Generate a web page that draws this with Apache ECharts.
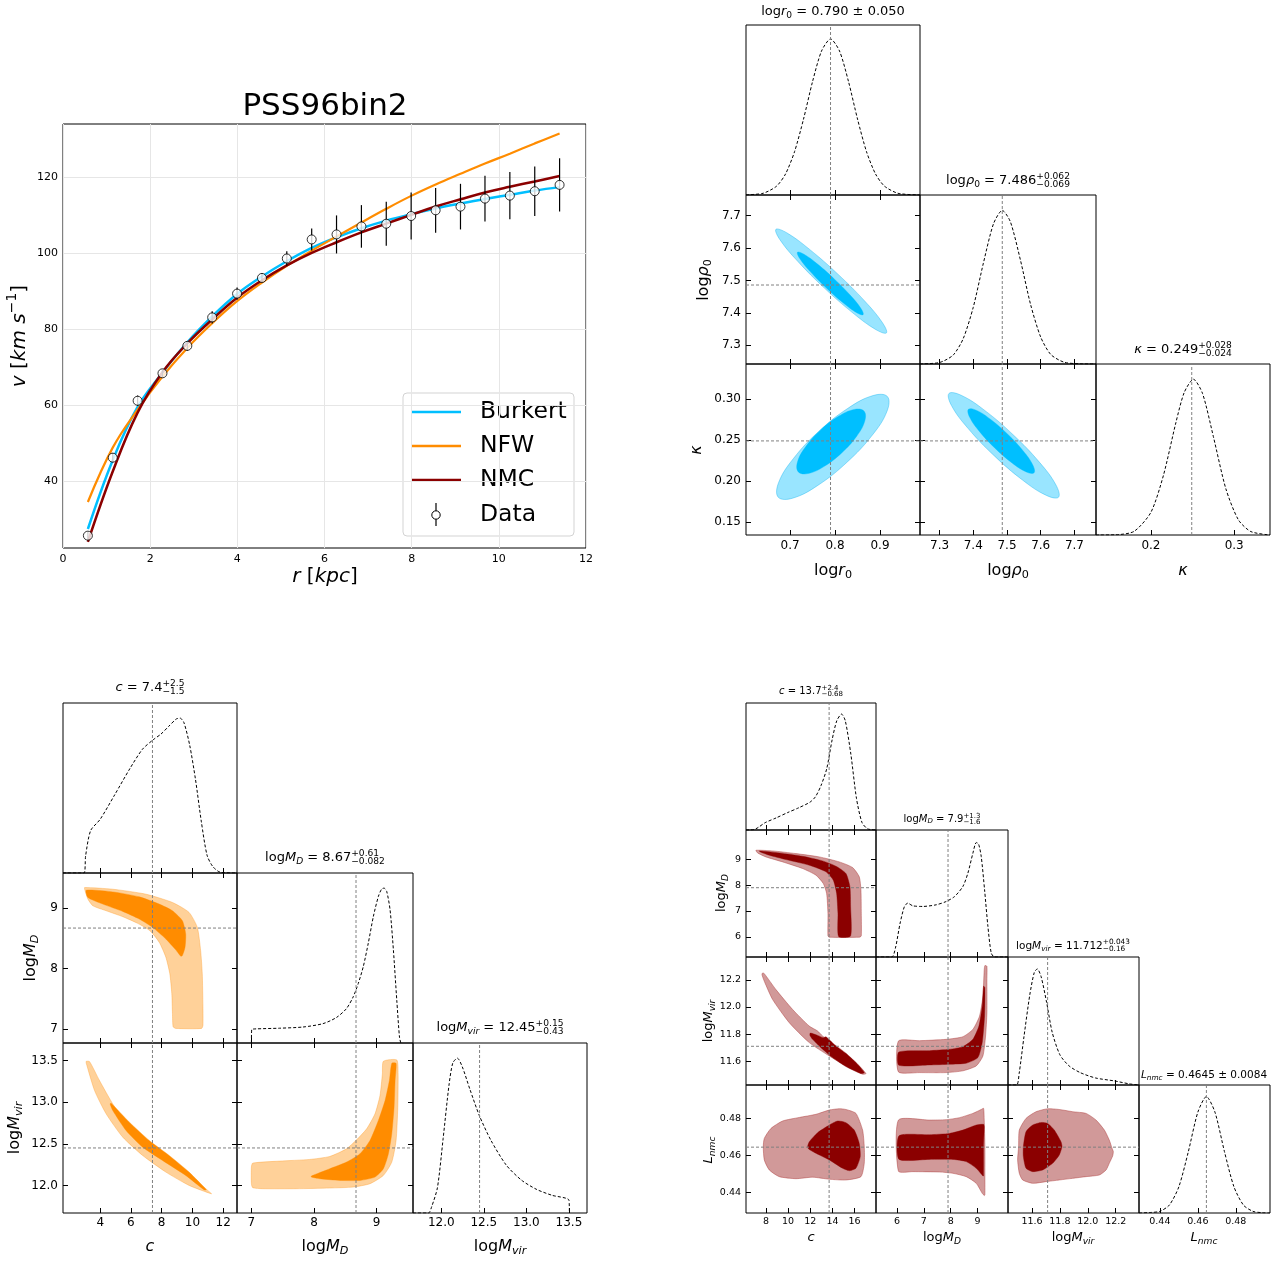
<!DOCTYPE html>
<html><head><meta charset="utf-8">
<script src="https://cdn.jsdelivr.net/npm/echarts@6/dist/echarts.min.js"></script>
<style>html,body{margin:0;padding:0;background:#fff}#c{width:1278px;height:1262px}</style>
</head><body><div id="c"></div>
<script>
// ================= Rotation curve (PSS96bin2) =================
const radius = [0.571,1.141,1.712,2.282,2.853,3.423,3.994,4.565,5.135,5.706,6.276,6.847,7.417,7.988,8.550,9.120,9.682,10.253,10.824,11.394];
const vObs = [25.65,46.16,61.12,68.34,75.56,83.04,89.29,93.42,98.53,103.54,104.86,106.97,107.68,109.70,111.20,112.17,114.28,115.07,116.22,117.89];
const vErr = [1.0,1.2,1.4,1.0,1.3,1.6,1.6,1.2,1.9,2.9,5.0,5.6,5.8,6.2,5.9,6.0,6.0,6.2,6.5,7.0];
const vBurkert = [27.4,45.5,59.5,68.5,76.5,83.3,89.2,93.8,97.8,101.3,104.1,106.5,108.5,110.2,111.7,113.0,114.2,115.3,116.4,117.3];
const vNFW = [34.5,48.8,58.8,67.5,75.0,81.5,87.3,92.2,96.6,100.6,104.3,108.0,111.6,115.0,118.0,120.8,123.5,126.1,128.8,131.4];
const vNMC = [24.0,42.5,58.0,68.6,76.2,82.5,88.2,92.8,96.7,100.0,102.8,105.4,107.7,110.0,112.2,114.1,115.9,117.4,118.8,120.2];
const rTicks = [0,2,4,6,8,10,12];
const vTicks = [40,60,80,100,120];

// ================= Burkert corner =================
const burkHistLogr0 = [[0.602,0.001],[0.64,0.010],[0.67,0.052],[0.69,0.124],[0.71,0.255],[0.73,0.447],[0.75,0.667],[0.77,0.847],[0.79,0.918],[0.81,0.847],[0.83,0.667],[0.85,0.447],[0.87,0.255],[0.89,0.124],[0.91,0.052],[0.94,0.010],[0.989,0.0]];
const burkHistLogrho0 = [[7.242,0.0],[7.30,0.009],[7.34,0.052],[7.37,0.149],[7.40,0.336],[7.43,0.597],[7.46,0.830],[7.486,0.909],[7.51,0.842],[7.54,0.614],[7.57,0.352],[7.60,0.159],[7.63,0.056],[7.67,0.010],[7.72,0.001],[7.764,0.0]];
const burkHistKappa = [[0.134,0.0],[0.16,0.002],[0.18,0.022],[0.20,0.133],[0.215,0.349],[0.23,0.658],[0.24,0.834],[0.251,0.911],[0.262,0.827],[0.275,0.575],[0.29,0.270],[0.305,0.089],[0.32,0.020],[0.343,0.0]];
const burkOuter10 = [[0.9143,7.338],[0.9053,7.370],[0.8659,7.4366],[0.8064,7.5195],[0.7429,7.5966],[0.6925,7.6474],[0.6685,7.658],[0.6775,7.6258],[0.7169,7.5594],[0.7764,7.4765],[0.8399,7.3994],[0.8903,7.3486]];
const burkInner10 = [[0.8625,7.3944],[0.8574,7.4140],[0.8341,7.4541],[0.7988,7.5041],[0.7611,7.5505],[0.7309,7.5810],[0.7165,7.5872],[0.7216,7.5677],[0.7449,7.5275],[0.7802,7.4775],[0.8179,7.4311],[0.8481,7.4006]];
const burkOuter20 = [[0.9164,0.3033],[0.9159,0.2856],[0.8831,0.2562],[0.8266,0.2229],[0.7617,0.1946],[0.7058,0.1790],[0.6738,0.1801],[0.6743,0.1978],[0.7071,0.2272],[0.7636,0.2605],[0.8285,0.2888],[0.8844,0.3044]];
const burkInner20 = [[0.8644,0.2855],[0.8663,0.2735],[0.8482,0.2548],[0.8148,0.2343],[0.7752,0.2176],[0.7399,0.2091],[0.7184,0.2111],[0.7165,0.2231],[0.7346,0.2418],[0.7680,0.2623],[0.8076,0.2790],[0.8429,0.2875]];
const burkOuter21 = [[7.6529,0.1802],[7.6454,0.1950],[7.5965,0.2228],[7.5190,0.2562],[7.4339,0.2863],[7.3640,0.3048],[7.3279,0.3070],[7.3354,0.2922],[7.3843,0.2644],[7.4618,0.2310],[7.5469,0.2009],[7.6168,0.1824]];
const burkInner21 = [[7.5803,0.2100],[7.5768,0.2194],[7.5482,0.2367],[7.5021,0.2572],[7.4508,0.2755],[7.4082,0.2866],[7.3855,0.2876],[7.3890,0.2782],[7.4176,0.2609],[7.4637,0.2404],[7.5150,0.2221],[7.5576,0.2110]];

// ================= NFW corner =================
const nfwHistC = [[1.58,0],[2.95,0],[3.05,0.10],[3.375,0.249],[4.0,0.316],[4.95,0.461],[5.95,0.617],[6.75,0.728],[7.45,0.784],[7.95,0.817],[8.45,0.862],[8.95,0.906],[9.2,0.911],[9.45,0.884],[9.825,0.751],[10.2,0.55],[10.575,0.305],[10.95,0.105],[11.325,0.038],[11.825,0.004],[12.9,0]];
const nfwHistLogMD = [[7.0,0],[7.005,0.079],[7.075,0.083],[7.449,0.087],[7.824,0.094],[8.144,0.114],[8.358,0.150],[8.519,0.203],[8.626,0.272],[8.706,0.350],[8.786,0.449],[8.866,0.587],[8.947,0.744],[9.027,0.862],[9.080,0.906],[9.118,0.911],[9.160,0.892],[9.214,0.783],[9.267,0.547],[9.321,0.252],[9.364,0.035],[9.385,0]];
const nfwHistLogMvir = [[11.668,0],[11.85,0],[11.888,0.038],[11.955,0.149],[12.022,0.438],[12.09,0.749],[12.135,0.882],[12.189,0.911],[12.247,0.86],[12.337,0.727],[12.449,0.571],[12.584,0.427],[12.763,0.282],[12.943,0.193],[13.123,0.138],[13.302,0.104],[13.5,0.076],[13.505,0]];
const nfwOuter10 = [[2.987,9.340],[4.819,9.312],[6.976,9.230],[8.701,9.093],[9.779,8.929],[10.318,8.682],[10.534,8.299],[10.641,7.915],[10.685,7.367],[10.685,7.066],[10.598,7.011],[8.916,7.011],[8.744,7.038],[8.701,7.258],[8.658,7.586],[8.528,7.915],[8.270,8.189],[7.838,8.436],[7.234,8.627],[6.437,8.748],[5.466,8.858],[4.388,8.956],[3.526,9.038],[3.202,9.148],[2.987,9.312]];
const nfwInner10 = [[3.094,9.296],[4.819,9.268],[6.544,9.186],[7.838,9.066],[8.701,8.956],[9.348,8.792],[9.563,8.573],[9.520,8.353],[9.348,8.216],[9.240,8.205],[8.916,8.310],[8.270,8.490],[7.407,8.682],[6.544,8.819],[5.466,8.945],[4.173,9.066],[3.202,9.175]];
const nfwOuter20 = [[3.094,13.492],[3.310,13.488],[3.957,13.26],[4.819,12.98],[5.898,12.70],[7.191,12.48],[8.701,12.26],[10.210,12.06],[11.245,11.90],[11.073,11.908],[9.779,12.00],[8.270,12.16],[6.760,12.36],[5.466,12.58],[4.388,12.86],[3.633,13.14],[3.094,13.468]];
const nfwInner20 = [[4.712,12.988],[5.898,12.76],[7.191,12.54],[8.485,12.36],[9.779,12.16],[10.900,11.948],[10.749,11.948],[9.563,12.12],[8.054,12.30],[6.760,12.46],[5.682,12.66],[4.819,12.90],[4.647,12.98]];
const nfwOuter21 = [[7.021,12.268],[7.449,12.292],[7.930,12.312],[8.251,12.348],[8.519,12.44],[8.679,12.548],[8.840,12.68],[8.973,12.86],[9.053,13.08],[9.091,13.34],[9.107,13.492],[9.321,13.508],[9.342,13.34],[9.337,12.94],[9.310,12.54],[9.241,12.28],[9.107,12.12],[8.893,12.02],[8.626,11.98],[8.251,11.968],[7.717,11.96],[7.182,11.96],[7.021,11.972],[7.0,12.02],[7.0,12.22]];
const nfwInner21 = [[7.957,12.112],[8.251,12.20],[8.519,12.28],[8.733,12.38],[8.893,12.54],[9.027,12.78],[9.134,13.02],[9.203,13.26],[9.241,13.468],[9.310,13.468],[9.294,13.26],[9.278,12.94],[9.241,12.62],[9.187,12.38],[9.107,12.20],[8.973,12.10],[8.733,12.06],[8.412,12.06],[8.091,12.08],[7.957,12.10]];

// ================= NMC corner =================
const nmcHistC = [[6.2,0],[6.9,0.003],[7.3,0.02],[7.93,0.058],[8.94,0.096],[9.95,0.137],[10.96,0.175],[11.97,0.219],[12.47,0.262],[12.97,0.35],[13.48,0.481],[13.98,0.714],[14.39,0.86],[14.82,0.913],[15.16,0.86],[15.66,0.598],[16.17,0.248],[16.67,0.058],[17.18,0.009],[17.93,0]];
const nmcHistLogMD = [[5.222,0],[5.808,0],[5.945,0.071],[6.119,0.267],[6.280,0.398],[6.404,0.424],[6.590,0.403],[6.963,0.398],[7.459,0.411],[7.831,0.437],[8.142,0.476],[8.452,0.555],[8.638,0.660],[8.824,0.817],[8.949,0.901],[9.035,0.890],[9.135,0.791],[9.259,0.529],[9.383,0.241],[9.507,0.031],[9.631,0],[10.13,0]];
const nmcHistLogMvir = [[11.428,0],[11.49,0],[11.508,0.09],[11.543,0.382],[11.584,0.703],[11.616,0.878],[11.638,0.907],[11.665,0.848],[11.705,0.644],[11.745,0.411],[11.80,0.236],[11.866,0.149],[11.947,0.096],[12.055,0.055],[12.19,0.032],[12.297,0.009],[12.367,0]];
const nmcHistLnmc = [[0.429,0],[0.435,0.004],[0.44,0.013],[0.445,0.062],[0.45,0.205],[0.455,0.480],[0.46,0.788],[0.4645,0.91],[0.469,0.788],[0.474,0.480],[0.479,0.205],[0.484,0.062],[0.489,0.013],[0.494,0.002],[0.498,0]];
const nmcOuter10 = [[7.098,9.346],[8.602,9.321],[10.707,9.218],[12.812,9.090],[14.617,8.897],[15.820,8.679],[16.421,8.321],[16.571,7.808],[16.602,6.910],[16.602,6.038],[16.421,5.987],[13.714,5.987],[13.594,6.038],[13.594,6.910],[13.474,7.679],[13.173,8.064],[12.511,8.385],[11.308,8.641],[9.504,8.897],[8.0,9.090],[7.248,9.244]];
const nmcInner10 = [[7.398,9.321],[9.203,9.244],[11.308,9.115],[13.113,8.936],[14.316,8.731],[15.218,8.449],[15.579,7.936],[15.639,7.167],[15.639,6.038],[14.556,6.013],[14.496,6.910],[14.376,7.679],[14.075,8.192],[13.414,8.513],[11.910,8.769],[9.805,8.987],[8.301,9.154],[7.549,9.269]];
const nmcOuter20 = [[7.699,12.250],[7.850,12.245],[8.902,12.128],[10.406,11.982],[11.910,11.860],[12.662,11.824],[13.113,11.787],[14.617,11.690],[16.120,11.593],[17.023,11.512],[16.722,11.507],[15.218,11.568],[13.714,11.641],[11.910,11.739],[10.105,11.885],[8.602,12.055],[7.850,12.189],[7.639,12.238]];
const nmcInner20 = [[12.0,11.809],[12.662,11.792],[13.173,11.775],[13.414,11.782],[14.165,11.726],[15.218,11.661],[16.120,11.593],[16.872,11.519],[16.571,11.512],[15.218,11.563],[14.015,11.629],[12.962,11.702],[12.211,11.763],[11.970,11.792]];
const nmcOuter21 = [[6.057,11.751],[6.839,11.753],[7.832,11.763],[8.452,11.782],[8.824,11.836],[9.073,11.934],[9.197,12.080],[9.246,12.274],[9.271,12.304],[9.346,12.299],[9.346,12.201],[9.346,11.958],[9.296,11.787],[9.197,11.641],[8.949,11.568],[8.452,11.532],[7.832,11.519],[6.839,11.519],[6.057,11.524]];
const nmcInner21 = [[6.069,11.670],[7.211,11.680],[7.956,11.690],[8.452,11.709],[8.824,11.763],[9.048,11.860],[9.172,12.007],[9.222,12.153],[9.271,12.141],[9.259,11.934],[9.172,11.739],[9.011,11.629],[8.576,11.588],[7.956,11.580],[7.211,11.575],[6.069,11.573]];
const nmcOuter30 = [[7.759,0.4648],[7.850,0.4692],[8.451,0.4746],[9.504,0.4786],[11.008,0.4805],[12.511,0.4822],[13.714,0.4845],[14.617,0.4852],[15.218,0.4848],[16.120,0.4827],[16.722,0.4737],[16.872,0.4648],[16.872,0.4558],[16.571,0.4486],[15.218,0.4468],[13.714,0.4472],[12.211,0.4483],[10.707,0.4475],[9.203,0.4486],[8.301,0.4522],[7.850,0.4576]];
const nmcInner30 = [[11.759,0.4648],[11.910,0.4674],[12.662,0.4723],[13.714,0.4764],[14.466,0.4786],[15.218,0.4777],[15.970,0.4737],[16.421,0.4665],[16.511,0.4594],[16.120,0.4531],[15.519,0.4518],[14.917,0.4531],[13.714,0.4576],[12.511,0.4612],[11.850,0.4635]];
const nmcOuter31 = [[6.057,0.4791],[7.211,0.4791],[7.832,0.4793],[8.328,0.4804],[8.824,0.4827],[9.135,0.4848],[9.222,0.4854],[9.246,0.4791],[9.271,0.4648],[9.271,0.4504],[9.271,0.4387],[9.246,0.4384],[9.172,0.4396],[8.949,0.4450],[8.576,0.4486],[8.080,0.4504],[7.583,0.4511],[6.590,0.4513],[6.057,0.4515]];
const nmcInner31 = [[6.081,0.4707],[7.211,0.4712],[7.956,0.4719],[8.452,0.4737],[8.949,0.4764],[9.222,0.4768],[9.246,0.4755],[9.222,0.4648],[9.222,0.4490],[9.197,0.4490],[8.949,0.4531],[8.576,0.4567],[8.080,0.4579],[7.211,0.4579],[6.081,0.4579]];
const nmcOuter32 = [[11.509,0.4737],[11.557,0.4800],[11.629,0.4836],[11.712,0.4852],[11.796,0.4848],[11.892,0.4836],[11.987,0.4827],[12.059,0.4791],[12.119,0.4737],[12.154,0.4683],[12.174,0.4639],[12.183,0.4621],[12.178,0.4597],[12.154,0.4558],[12.131,0.4522],[12.083,0.4495],[11.987,0.4486],[11.892,0.4477],[11.796,0.4468],[11.700,0.4459],[11.605,0.4450],[11.533,0.4468],[11.509,0.4504],[11.497,0.4576],[11.504,0.4648]];
const nmcInner32 = [[11.538,0.4648],[11.557,0.4728],[11.605,0.4764],[11.665,0.4778],[11.712,0.4773],[11.760,0.4737],[11.808,0.4674],[11.815,0.4648],[11.796,0.4603],[11.748,0.4558],[11.677,0.4522],[11.605,0.4513],[11.557,0.4531],[11.538,0.4594]];

// ================= helpers =================
const FONT = 'DejaVu Sans';
const grids = [], xAxes = [], yAxes = [], series = [], graphics = [];
const mctx = document.createElement('canvas').getContext('2d');
function tw(s, fs, it) { mctx.font = (it ? 'italic ' : '') + fs + 'px "DejaVu Sans"'; return mctx.measureText(s).width; }
function txt(s, x, y, fs, it) {
  return { type: 'text', x: x, y: y, silent: true,
    style: { text: s, fontSize: fs, fontFamily: FONT, fontStyle: it ? 'italic' : 'normal', fill: '#000',
      align: 'left', verticalAlign: 'middle', textAlign: 'left', textVerticalAlign: 'middle' } };
}
function mtext(parts, cx, cy, fs, rot) {
  const kids = []; let x = 0; const s = fs * 0.7;
  for (const p of parts) {
    if (p.t !== undefined) { kids.push(txt(p.t, x, 0, fs, p.i)); x += tw(p.t, fs, p.i); }
    else if (p.sup !== undefined && p.sub !== undefined) {
      kids.push(txt(p.sup, x, -0.33 * fs, s, false)); kids.push(txt(p.sub, x, 0.30 * fs, s, false));
      x += Math.max(tw(p.sup, s, false), tw(p.sub, s, false));
    } else if (p.sub !== undefined) { kids.push(txt(p.sub, x, 0.26 * fs, s, p.i)); x += tw(p.sub, s, p.i); }
    else { kids.push(txt(p.sup, x, -0.36 * fs, s, p.i)); x += tw(p.sup, s, p.i); }
  }
  kids.forEach(k => { k.x -= x / 2; });
  graphics.push({ type: 'group', x: cx, y: cy, rotation: rot || 0, silent: true, children: kids });
}
function tickAxis(gi, p, pos, show, fs, isY, margin) {
  const ticks = isY ? p.yticks : p.xticks;
  const dec = isY ? p.ydec : p.dec;
  return { type: 'value', gridIndex: gi, position: pos, min: p.min, max: p.max,
    axisLine: { show: false },
    axisTick: { show: true, inside: true, length: 5, customValues: ticks, lineStyle: { color: '#000', width: 1 } },
    axisLabel: { show: show, customValues: ticks, fontSize: fs, fontFamily: FONT, color: '#000', margin: margin,
      formatter: v => Number(v).toFixed(dec) },
    splitLine: { show: false } };
}
function seg(xi, yi, pts) {
  return { type: 'line', xAxisIndex: xi, yAxisIndex: yi, data: pts, showSymbol: false, silent: true,
    lineStyle: { color: '#808080', width: 1, type: [3, 2] }, z: 6 };
}
function poly(xi, yi, pts, fill, stroke, z, sm) {
  return { type: 'custom', xAxisIndex: xi, yAxisIndex: yi, z: z, silent: true, clip: true, data: pts,
    renderItem: (params, api) => params.dataIndex !== 0 ? null : ({
      type: 'polygon', shape: { points: pts.map(p => api.coord(p)), smooth: sm },
      style: { fill: fill, stroke: stroke || fill, lineWidth: stroke ? 0.8 : 0.4 } }) };
}
function corner(S) {
  const n = S.params.length;
  for (let i = 0; i < n; i++) for (let j = 0; j <= i; j++) {
    const l = S.cols[j], r = S.cols[j + 1], t = S.rows[i], b = S.rows[i + 1];
    const gi = grids.length;
    grids.push({ left: l, top: t, width: r - l, height: b - t, show: true, borderColor: '#000', borderWidth: 1 });
    const px = S.params[j];
    const xb = xAxes.length;
    xAxes.push(tickAxis(gi, px, 'bottom', i === n - 1, S.fs, false, S.xm));
    if (i === j) {
      const yb = yAxes.length;
      yAxes.push({ type: 'value', gridIndex: gi, min: 0, max: 1, show: false });
      series.push({ type: 'line', xAxisIndex: xb, yAxisIndex: yb, data: S.hists[i], showSymbol: false, smooth: 0.25,
        silent: true, lineStyle: { color: '#000', width: 1, type: [3, 2] }, z: 4 });
      series.push(seg(xb, yb, [[px.med, 0], [px.med, 1]]));
    } else {
      xAxes.push(tickAxis(gi, px, 'top', false, S.fs, false, 0));
      const py = S.params[i];
      const yb = yAxes.length;
      yAxes.push(tickAxis(gi, py, 'left', j === 0, S.fs, true, S.ym));
      yAxes.push(tickAxis(gi, py, 'right', false, S.fs, true, 0));
      const key = '' + i + j;
      series.push(poly(xb, yb, S.outer[key], S.light, S.edge, 2, S.smooth));
      series.push(poly(xb, yb, S.inner[key], S.dark, null, 3, S.smooth));
      series.push(seg(xb, yb, [[px.med, py.min], [px.med, py.max]]));
      series.push(seg(xb, yb, [[px.min, py.med], [px.max, py.med]]));
    }
  }
}

// ================= rotation curve panel =================
grids.push({ left: 63, top: 124, width: 523, height: 424, show: true, borderColor: '#000', borderWidth: 1 });
xAxes.push({ type: 'value', gridIndex: 0, min: 0, max: 12, interval: 2,
  axisLine: { show: false }, axisTick: { show: false, customValues: rTicks },
  axisLabel: { customValues: rTicks, fontSize: 11, fontFamily: FONT, color: '#000', margin: 6 },
  splitLine: { show: true, lineStyle: { color: '#e6e6e6', width: 1 } } });
yAxes.push({ type: 'value', gridIndex: 0, min: 22.4, max: 133.9,
  axisLine: { show: false }, axisTick: { show: false, customValues: vTicks },
  axisLabel: { customValues: vTicks, fontSize: 11, fontFamily: FONT, color: '#000', margin: 5 },
  splitLine: { show: true, lineStyle: { color: '#e6e6e6', width: 1 } } });
function curve(vals, color, w) {
  return { type: 'line', xAxisIndex: 0, yAxisIndex: 0, data: radius.map((r, i) => [r, vals[i]]), showSymbol: false,
    smooth: 0.4, silent: true, lineStyle: { color: color, width: w }, z: 3 };
}
series.push(curve(vBurkert, '#00bfff', 2.5));
series.push(curve(vNFW, '#ff8c00', 2.2));
series.push(curve(vNMC, '#8b0000', 2.5));
series.push({ type: 'custom', xAxisIndex: 0, yAxisIndex: 0, z: 5, silent: true,
  data: radius.map((r, i) => [r, vObs[i], vErr[i]]),
  renderItem: (params, api) => {
    const r = api.value(0), v = api.value(1), e = api.value(2);
    const a = api.coord([r, v - e]), b = api.coord([r, v + e]);
    return { type: 'line', shape: { x1: a[0], y1: a[1], x2: b[0], y2: b[1] }, style: { stroke: '#000', lineWidth: 1.2 } };
  } });
series.push({ type: 'scatter', xAxisIndex: 0, yAxisIndex: 0, z: 6, silent: true, symbol: 'circle', symbolSize: 9,
  data: radius.map((r, i) => [r, vObs[i]]), itemStyle: { color: '#fff', borderColor: '#000', borderWidth: 1 } });

mtext([{ t: 'PSS96bin2' }], 325, 107, 31);
mtext([{ t: 'r', i: 1 }, { t: ' [' }, { t: 'kpc', i: 1 }, { t: ']' }], 325, 577, 20);
mtext([{ t: 'v', i: 1 }, { t: ' [' }, { t: 'km', i: 1 }, { t: ' ' }, { t: 's', i: 1 }, { sup: '−1' }, { t: ']' }], 20, 336, 20, Math.PI / 2);
// legend
graphics.push({ type: 'rect', shape: { x: 403, y: 393, width: 171, height: 143, r: 4 }, silent: true,
  style: { fill: 'rgba(255,255,255,0.85)', stroke: '#d3d3d3', lineWidth: 1 } });
[['Burkert', '#00bfff', 412], ['NFW', '#ff8c00', 446], ['NMC', '#8b0000', 480]].forEach(e => {
  graphics.push({ type: 'line', shape: { x1: 412, y1: e[2], x2: 461, y2: e[2] }, silent: true, style: { stroke: e[1], lineWidth: 2.5 } });
  graphics.push(txt(e[0], 480, e[2], 23.5, false));
});
graphics.push({ type: 'line', shape: { x1: 436, y1: 503, x2: 436, y2: 526 }, silent: true, style: { stroke: '#000', lineWidth: 1.2 } });
graphics.push({ type: 'circle', shape: { cx: 436, cy: 515, r: 4.2 }, silent: true, style: { fill: '#fff', stroke: '#000', lineWidth: 1 } });
graphics.push(txt('Data', 480, 515, 23.5, false));

// ================= Burkert corner =================
const L_logr0 = [{ t: 'log' }, { t: 'r', i: 1 }, { sub: '0' }];
const L_logrho0 = [{ t: 'log' }, { t: 'ρ', i: 1 }, { sub: '0' }];
const L_kappa = [{ t: 'κ', i: 1 }];
const L_c = [{ t: 'c', i: 1 }];
const L_logMD = [{ t: 'log' }, { t: 'M', i: 1 }, { sub: 'D', i: 1 }];
const L_logMvir = [{ t: 'log' }, { t: 'M', i: 1 }, { sub: 'vir', i: 1 }];
const L_Lnmc = [{ t: 'L', i: 1 }, { sub: 'nmc', i: 1 }];

corner({
  cols: [746, 920, 1096, 1270], rows: [25, 195, 364, 535], fs: 12, xm: 5, ym: 5, smooth: 0.4,
  params: [
    { min: 0.602, max: 0.989, xticks: [0.7, 0.8, 0.9], yticks: [0.7, 0.8, 0.9], dec: 1, ydec: 1, med: 0.79 },
    { min: 7.242, max: 7.764, xticks: [7.3, 7.4, 7.5, 7.6, 7.7], yticks: [7.3, 7.4, 7.5, 7.6, 7.7], dec: 1, ydec: 1, med: 7.486 },
    { min: 0.134, max: 0.343, xticks: [0.2, 0.3], yticks: [0.15, 0.2, 0.25, 0.3], dec: 1, ydec: 2, med: 0.249 }
  ],
  hists: [burkHistLogr0, burkHistLogrho0, burkHistKappa],
  outer: { '10': burkOuter10, '20': burkOuter20, '21': burkOuter21 },
  inner: { '10': burkInner10, '20': burkInner20, '21': burkInner21 },
  light: '#99e5ff', edge: 'rgba(0,170,235,0.45)', dark: '#00bfff'
});
mtext(L_logr0.concat([{ t: ' = 0.790 ± 0.050' }]), 833, 12, 13);
mtext(L_logrho0.concat([{ t: ' = 7.486' }, { sup: '+0.062', sub: '−0.069' }]), 1008, 181, 13);
mtext(L_kappa.concat([{ t: ' = 0.249' }, { sup: '+0.028', sub: '−0.024' }]), 1183, 350, 13);
mtext(L_logr0, 833, 571, 16); mtext(L_logrho0, 1008, 571, 16); mtext(L_kappa, 1183, 571, 16);
mtext(L_logrho0, 704, 280, 16, Math.PI / 2); mtext(L_kappa, 697, 450, 16, Math.PI / 2);

// ================= NFW corner =================
corner({
  cols: [63, 237, 413, 587], rows: [703, 873, 1043, 1213], fs: 12, xm: 4, ym: 5, smooth: 0.2,
  params: [
    { min: 1.58, max: 12.9, xticks: [4, 6, 8, 10, 12], yticks: [4, 6, 8, 10, 12], dec: 0, ydec: 0, med: 7.4 },
    { min: 6.77, max: 9.58, xticks: [7, 8, 9], yticks: [7, 8, 9], dec: 0, ydec: 0, med: 8.67 },
    { min: 11.668, max: 13.712, xticks: [12, 12.5, 13, 13.5], yticks: [12, 12.5, 13, 13.5], dec: 1, ydec: 1, med: 12.45 }
  ],
  hists: [nfwHistC, nfwHistLogMD, nfwHistLogMvir],
  outer: { '10': nfwOuter10, '20': nfwOuter20, '21': nfwOuter21 },
  inner: { '10': nfwInner10, '20': nfwInner20, '21': nfwInner21 },
  light: '#ffd199', edge: 'rgba(255,150,30,0.45)', dark: '#ff8c00'
});
mtext(L_c.concat([{ t: ' = 7.4' }, { sup: '+2.5', sub: '−1.5' }]), 150, 688, 13);
mtext(L_logMD.concat([{ t: ' = 8.67' }, { sup: '+0.61', sub: '−0.082' }]), 325, 858, 13);
mtext(L_logMvir.concat([{ t: ' = 12.45' }, { sup: '+0.15', sub: '−0.43' }]), 500, 1028, 13);
mtext(L_c, 150, 1247, 16); mtext(L_logMD, 325, 1247, 16); mtext(L_logMvir, 500, 1247, 16);
mtext(L_logMD, 31, 958, 16, Math.PI / 2); mtext(L_logMvir, 15, 1128, 16, Math.PI / 2);

// ================= NMC corner =================
corner({
  cols: [746, 876, 1008, 1139, 1270], rows: [703, 830, 957, 1085, 1213], fs: 9.5, xm: 4, ym: 5, smooth: 0.2,
  params: [
    { min: 6.2, max: 17.93, xticks: [8, 10, 12, 14, 16], yticks: [8, 10, 12, 14, 16], dec: 0, ydec: 0, med: 13.7 },
    { min: 5.222, max: 10.13, xticks: [6, 7, 8, 9], yticks: [6, 7, 8, 9], dec: 0, ydec: 0, med: 7.9 },
    { min: 11.428, max: 12.367, xticks: [11.6, 11.8, 12.0, 12.2], yticks: [11.6, 11.8, 12.0, 12.2], dec: 1, ydec: 1, med: 11.712 },
    { min: 0.429, max: 0.498, xticks: [0.44, 0.46, 0.48], yticks: [0.44, 0.46, 0.48], dec: 2, ydec: 2, med: 0.4645 }
  ],
  hists: [nmcHistC, nmcHistLogMD, nmcHistLogMvir, nmcHistLnmc],
  outer: { '10': nmcOuter10, '20': nmcOuter20, '21': nmcOuter21, '30': nmcOuter30, '31': nmcOuter31, '32': nmcOuter32 },
  inner: { '10': nmcInner10, '20': nmcInner20, '21': nmcInner21, '30': nmcInner30, '31': nmcInner31, '32': nmcInner32 },
  light: '#d19999', edge: 'rgba(170,50,50,0.55)', dark: '#8b0000'
});
mtext(L_c.concat([{ t: ' = 13.7' }, { sup: '+2.4', sub: '−0.68' }]), 811, 691, 10);
mtext(L_logMD.concat([{ t: ' = 7.9' }, { sup: '+1.3', sub: '−1.6' }]), 942, 819, 10);
mtext(L_logMvir.concat([{ t: ' = 11.712' }, { sup: '+0.043', sub: '−0.16' }]), 1073, 946, 10.5);
mtext(L_Lnmc.concat([{ t: ' = 0.4645 ± 0.0084' }]), 1204, 1075, 10.5);
mtext(L_c, 811, 1238, 13); mtext(L_logMD, 942, 1238, 13); mtext(L_logMvir, 1073, 1238, 13); mtext(L_Lnmc, 1204, 1238, 13);
mtext(L_logMD, 722, 893, 13, Math.PI / 2); mtext(L_logMvir, 709, 1021, 13, Math.PI / 2); mtext(L_Lnmc, 709, 1150, 13, Math.PI / 2);

// ================= render =================
const chart = echarts.init(document.getElementById('c'), null, { renderer: 'canvas', width: 1278, height: 1262 });
chart.setOption({
  animation: false, backgroundColor: '#fff',
  textStyle: { fontFamily: FONT },
  grid: grids, xAxis: xAxes, yAxis: yAxes, series: series,
  graphic: { elements: graphics }
});
</script></body></html>
